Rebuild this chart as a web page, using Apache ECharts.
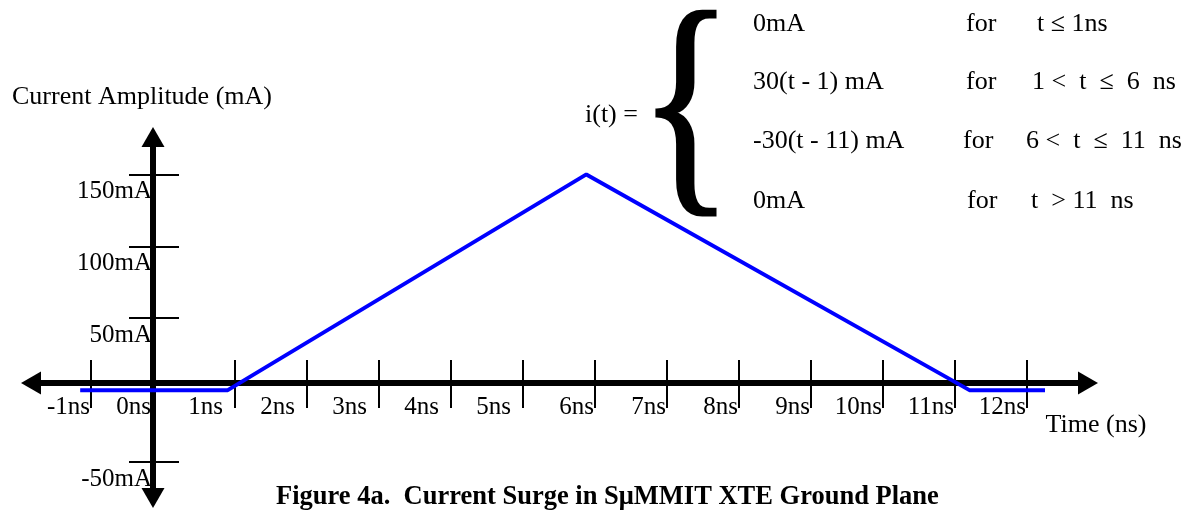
<!DOCTYPE html>
<html><head><meta charset="utf-8">
<script src="https://cdn.jsdelivr.net/npm/echarts@6/dist/echarts.min.js"></script>
<style>html,body{margin:0;padding:0;background:#fff}#c{width:1198px;height:510px}</style>
</head><body><div id="c"></div>
<script>
// ---- data ----
const timeNs = [-1.15, 0.9, 5.88, 11.2, 12.25];
const currentMA = [0, 0, 150, 0, 0];
const xLabelValues = [-1, 0, 1, 2, 3, 4, 5, 6, 7, 8, 9, 10, 11, 12];
const xLabelTexts = ['-1ns', '0ns', '1ns', '2ns', '3ns', '4ns', '5ns', '6ns', '7ns', '8ns', '9ns', '10ns', '11ns', '12ns'];
const xTickValues = [-1, 1, 2, 3, 4, 5, 6, 7, 8, 9, 10, 11, 12];
const yTickValues = [-50, 50, 100, 150];
const yLabelTexts = ['-50mA', '50mA', '100mA', '150mA'];
const xRange = [-1.833, 12.847];
const yRange = [-75, 176];
const titleText = 'Figure 4a.  Current Surge in S\u03bcMMIT XTE Ground Plane';
const xName = 'Time (ns)';
const yName = 'Current Amplitude (mA)';
const eqLeft = 'i(t) =';
const eqExpr = ['0mA', '30(t - 1) mA', '-30(t - 11) mA', '0mA'];
const eqFor = ['for', 'for', 'for', 'for'];
const eqCond = ['t \u2264 1ns', '1 <  t  \u2264  6  ns', '6 <  t  \u2264  11  ns', 't  > 11  ns'];

// ---- layout / style ----
const FONT = 'Liberation Serif';
const EQF = '26px ' + FONT;
const chart = echarts.init(document.getElementById('c'), null, { renderer: 'canvas' });
const rowY = [24, 82, 141, 201];
const forX = [966, 966, 963, 967];
const condX = [1037, 1032, 1026, 1031];
const exprX = 753;

const xLabelMap = {};
xLabelValues.forEach((v, i) => { xLabelMap[v] = xLabelTexts[i]; });
const yLabelMap = {};
yTickValues.forEach((v, i) => { yLabelMap[v] = yLabelTexts[i]; });

const graphics = [];
graphics.push({ type: 'text', x: 585, y: 115, style: { text: eqLeft, font: EQF, fill: '#000', align: 'left', verticalAlign: 'middle' } });
graphics.push({ type: 'text', x: 686, y: 117, scaleX: 0.8, style: { text: '{', font: '246px ' + FONT, fill: '#000', stroke: '#000', lineWidth: 3, align: 'center', verticalAlign: 'middle' } });
for (let i = 0; i < eqExpr.length; i++) {
  graphics.push({ type: 'text', x: exprX, y: rowY[i], style: { text: eqExpr[i], font: EQF, fill: '#000', align: 'left', verticalAlign: 'middle' } });
  graphics.push({ type: 'text', x: forX[i], y: rowY[i], style: { text: eqFor[i], font: EQF, fill: '#000', align: 'left', verticalAlign: 'middle' } });
  graphics.push({ type: 'text', x: condX[i], y: rowY[i], style: { text: eqCond[i], font: EQF, fill: '#000', align: 'left', verticalAlign: 'middle' } });
}

const gridLeft = 31, gridTop = 137, gridRightEdge = 1088, gridBottomEdge = 498;
const yAxisX = 153, xAxisY = 383;

const xBase = {
  type: 'value', min: xRange[0], max: xRange[1], position: 'bottom',
  offset: -(gridBottomEdge - xAxisY), splitLine: { show: false }
};
const yBase = {
  type: 'value', min: yRange[0], max: yRange[1], position: 'left',
  offset: -(yAxisX - gridLeft), splitLine: { show: false }
};

const option = {
  animation: false,
  backgroundColor: '#fff',
  title: {
    text: titleText, left: 276, top: 484, padding: 0,
    textStyle: { fontFamily: FONT, fontSize: 26.5, fontWeight: 'bold', color: '#000' }
  },
  grid: { left: gridLeft, top: gridTop, right: 1198 - gridRightEdge, bottom: 510 - gridBottomEdge, containLabel: false },
  xAxis: [
    Object.assign({}, xBase, {
      name: '{a|' + xName + '}', nameLocation: 'end', nameGap: 8,
      nameTextStyle: { align: 'center', verticalAlign: 'middle',
        rich: { a: { fontFamily: FONT, fontSize: 26, color: '#000', padding: [84, 0, 0, 0] } } },
      axisLine: { show: true, onZero: false, symbol: ['triangle', 'triangle'], symbolSize: [23, 20], lineStyle: { color: '#000', width: 6 } },
      axisTick: { show: true, inside: false, length: 25, customValues: xTickValues, lineStyle: { color: '#000', width: 2 } },
      axisLabel: {
        show: true, customValues: xLabelValues, margin: 12, align: 'right',
        formatter: function (v) { const t = xLabelMap[v]; return (v >= 0 && v <= 5) ? '{g|' + t + '}' : '{n|' + t + '}'; },
        rich: {
          g: { fontFamily: FONT, fontSize: 25, color: '#000', padding: [0, 12, 0, 0] },
          n: { fontFamily: FONT, fontSize: 25, color: '#000', padding: [0, 1, 0, 0] }
        }
      }
    }),
    Object.assign({}, xBase, {
      axisLine: { show: false, onZero: false },
      axisTick: { show: true, inside: true, length: 23, customValues: xTickValues, lineStyle: { color: '#000', width: 2 } },
      axisLabel: { show: false }
    })
  ],
  yAxis: [
    Object.assign({}, yBase, {
      name: yName, nameLocation: 'end', nameGap: 40,
      nameTextStyle: { fontFamily: FONT, fontSize: 26, color: '#000', align: 'center', verticalAlign: 'middle', padding: [0, 22, 0, 0] },
      axisLine: { show: true, onZero: false, symbol: ['triangle', 'triangle'], symbolSize: [23, 20], lineStyle: { color: '#000', width: 6 } },
      axisTick: { show: true, inside: false, length: 24, customValues: yTickValues, lineStyle: { color: '#000', width: 2 } },
      axisLabel: {
        show: true, customValues: yTickValues, margin: 1, align: 'right', verticalAlign: 'middle',
        formatter: function (v) { return '{a|' + yLabelMap[v] + '}'; },
        rich: { a: { fontFamily: FONT, fontSize: 25, color: '#000', padding: [34, 0, 0, 0] } }
      }
    }),
    Object.assign({}, yBase, {
      axisLine: { show: false, onZero: false },
      axisTick: { show: true, inside: true, length: 26, customValues: yTickValues, lineStyle: { color: '#000', width: 2 } },
      axisLabel: { show: false }
    })
  ],
  series: [{
    type: 'line', xAxisIndex: 0, yAxisIndex: 0,
    data: timeNs.map((t, i) => [t, currentMA[i]]),
    symbol: 'none', lineStyle: { color: '#0000ff', width: 4 }, z: 1
  }],
  graphic: graphics
};
chart.setOption(option);
</script>
</body></html>
